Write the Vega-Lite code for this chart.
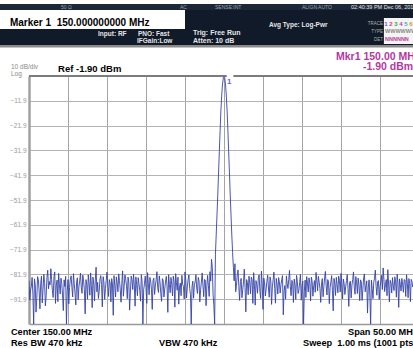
{
"$schema": "https://vega.github.io/schema/vega-lite/v6.json",
"autosize": "none",
"padding": {"left": 29, "top": 76, "right": 0, "bottom": 24},
"width": 384,
"height": 248,
"background": "white",
"config": {"view": {"stroke": null}, "font": "Liberation Sans", "axis": {"labelOverlap": false}},
"resolve": {"axis": {"x": "independent", "y": "independent"}},
"layer": [
{"data": {"values": [
{"f":125.0,"p":-84.5},{"f":125.1,"p":-92.3},{"f":125.2,"p":-88.2},{"f":125.3,"p":-86.8},{"f":125.4,"p":-83.1},{"f":125.5,"p":-89.9},{"f":125.6,"p":-101.9},{"f":125.7,"p":-83.7},{"f":125.8,"p":-86.0},{"f":125.9,"p":-97.1},
{"f":126.0,"p":-91.5},{"f":126.1,"p":-82.8},{"f":126.2,"p":-84.0},{"f":126.3,"p":-88.6},{"f":126.4,"p":-95.8},{"f":126.5,"p":-85.5},{"f":126.6,"p":-82.6},{"f":126.7,"p":-93.4},{"f":126.8,"p":-87.9},{"f":126.9,"p":-81.9},
{"f":127.0,"p":-85.2},{"f":127.1,"p":-94.6},{"f":127.2,"p":-90.4},{"f":127.3,"p":-83.2},{"f":127.4,"p":-80.2},{"f":127.5,"p":-87.7},{"f":127.6,"p":-84.8},{"f":127.7,"p":-86.1},{"f":127.8,"p":-79.6},{"f":127.9,"p":-84.0},
{"f":128.0,"p":-88.5},{"f":128.1,"p":-91.2},{"f":128.2,"p":-83.0},{"f":128.3,"p":-80.9},{"f":128.4,"p":-93.6},{"f":128.5,"p":-86.3},{"f":128.6,"p":-84.2},{"f":128.7,"p":-92.9},{"f":128.8,"p":-81.5},{"f":128.9,"p":-86.0},
{"f":129.0,"p":-89.8},{"f":129.1,"p":-83.4},{"f":129.2,"p":-85.5},{"f":129.3,"p":-90.2},{"f":129.4,"p":-96.5},{"f":129.5,"p":-84.1},{"f":129.6,"p":-86.8},{"f":129.7,"p":-82.7},{"f":129.8,"p":-101.9},{"f":129.9,"p":-88.9},
{"f":130.0,"p":-84.0},{"f":130.1,"p":-93.8},{"f":130.2,"p":-87.2},{"f":130.3,"p":-83.9},{"f":130.4,"p":-82.5},{"f":130.5,"p":-87.1},{"f":130.6,"p":-91.0},{"f":130.7,"p":-81.6},{"f":130.8,"p":-85.6},{"f":130.9,"p":-89.4},
{"f":131.0,"p":-94.2},{"f":131.1,"p":-85.0},{"f":131.2,"p":-83.3},{"f":131.3,"p":-92.1},{"f":131.4,"p":-86.9},{"f":131.5,"p":-84.5},{"f":131.6,"p":-81.4},{"f":131.7,"p":-87.0},{"f":131.8,"p":-89.5},{"f":131.9,"p":-82.2},
{"f":132.0,"p":-84.7},{"f":132.1,"p":-88.1},{"f":132.2,"p":-97.8},{"f":132.3,"p":-84.0},{"f":132.4,"p":-85.9},{"f":132.5,"p":-91.9},{"f":132.6,"p":-82.1},{"f":132.7,"p":-85.4},{"f":132.8,"p":-90.3},{"f":132.9,"p":-81.3},
{"f":133.0,"p":-86.4},{"f":133.1,"p":-95.3},{"f":133.2,"p":-83.0},{"f":133.3,"p":-85.8},{"f":133.4,"p":-92.6},{"f":133.5,"p":-84.2},{"f":133.6,"p":-79.0},{"f":133.7,"p":-88.9},{"f":133.8,"p":-85.1},{"f":133.9,"p":-91.6},
{"f":134.0,"p":-88.7},{"f":134.1,"p":-83.7},{"f":134.2,"p":-82.4},{"f":134.3,"p":-86.0},{"f":134.4,"p":-95.0},{"f":134.5,"p":-82.8},{"f":134.6,"p":-84.9},{"f":134.7,"p":-92.0},{"f":134.8,"p":-87.6},{"f":134.9,"p":-84.3},
{"f":135.0,"p":-81.0},{"f":135.1,"p":-86.1},{"f":135.2,"p":-90.8},{"f":135.3,"p":-84.0},{"f":135.4,"p":-85.3},{"f":135.5,"p":-93.0},{"f":135.6,"p":-83.6},{"f":135.7,"p":-85.8},{"f":135.8,"p":-98.4},{"f":135.9,"p":-82.4},
{"f":136.0,"p":-86.2},{"f":136.1,"p":-91.0},{"f":136.2,"p":-82.9},{"f":136.3,"p":-85.2},{"f":136.4,"p":-88.9},{"f":136.5,"p":-81.7},{"f":136.6,"p":-84.4},{"f":136.7,"p":-88.0},{"f":136.8,"p":-93.1},{"f":136.9,"p":-85.5},
{"f":137.0,"p":-80.5},{"f":137.1,"p":-90.7},{"f":137.2,"p":-86.7},{"f":137.3,"p":-82.1},{"f":137.4,"p":-83.8},{"f":137.5,"p":-86.4},{"f":137.6,"p":-91.7},{"f":137.7,"p":-83.0},{"f":137.8,"p":-85.0},{"f":137.9,"p":-96.3},
{"f":138.0,"p":-89.0},{"f":138.1,"p":-82.6},{"f":138.2,"p":-84.1},{"f":138.3,"p":-88.0},{"f":138.4,"p":-81.8},{"f":138.5,"p":-86.2},{"f":138.6,"p":-94.7},{"f":138.7,"p":-82.9},{"f":138.8,"p":-86.0},{"f":138.9,"p":-90.5},
{"f":139.0,"p":-83.2},{"f":139.1,"p":-85.7},{"f":139.2,"p":-88.4},{"f":139.3,"p":-92.7},{"f":139.4,"p":-82.0},{"f":139.5,"p":-84.8},{"f":139.6,"p":-101.9},{"f":139.7,"p":-88.1},{"f":139.8,"p":-85.7},{"f":139.9,"p":-82.6},
{"f":140.0,"p":-87.3},{"f":140.1,"p":-93.6},{"f":140.2,"p":-81.2},{"f":140.3,"p":-85.6},{"f":140.4,"p":-90.1},{"f":140.5,"p":-83.1},{"f":140.6,"p":-84.6},{"f":140.7,"p":-87.9},{"f":140.8,"p":-96.0},{"f":140.9,"p":-84.4},
{"f":141.0,"p":-83.4},{"f":141.1,"p":-90.0},{"f":141.2,"p":-86.5},{"f":141.3,"p":-84.1},{"f":141.4,"p":-80.8},{"f":141.5,"p":-87.2},{"f":141.6,"p":-89.2},{"f":141.7,"p":-82.5},{"f":141.8,"p":-85.1},{"f":141.9,"p":-89.7},
{"f":142.0,"p":-92.8},{"f":142.1,"p":-83.6},{"f":142.2,"p":-84.3},{"f":142.3,"p":-91.0},{"f":142.4,"p":-87.8},{"f":142.5,"p":-85.0},{"f":142.6,"p":-82.7},{"f":142.7,"p":-86.5},{"f":142.8,"p":-97.2},{"f":142.9,"p":-82.0},
{"f":143.0,"p":-85.9},{"f":143.1,"p":-89.3},{"f":143.2,"p":-83.1},{"f":143.3,"p":-86.0},{"f":143.4,"p":-90.6},{"f":143.5,"p":-82.6},{"f":143.6,"p":-84.8},{"f":143.7,"p":-95.1},{"f":143.8,"p":-81.6},{"f":143.9,"p":-85.2},
{"f":144.0,"p":-88.3},{"f":144.1,"p":-83.0},{"f":144.2,"p":-93.9},{"f":144.3,"p":-87.0},{"f":144.4,"p":-85.4},{"f":144.5,"p":-90.5},{"f":144.6,"p":-82.3},{"f":144.7,"p":-85.9},{"f":144.8,"p":-86.8},{"f":144.9,"p":-91.8},
{"f":145.0,"p":-80.9},{"f":145.1,"p":-84.2},{"f":145.2,"p":-91.4},{"f":145.3,"p":-86.9},{"f":145.4,"p":-84.0},{"f":145.5,"p":-82.1},{"f":145.6,"p":-87.5},{"f":145.7,"p":-90.0},{"f":145.8,"p":-101.9},{"f":145.9,"p":-86.8},
{"f":146.0,"p":-84.6},{"f":146.1,"p":-91.5},{"f":146.2,"p":-86.1},{"f":146.3,"p":-84.9},{"f":146.4,"p":-82.0},{"f":146.5,"p":-87.4},{"f":146.6,"p":-89.6},{"f":146.7,"p":-83.1},{"f":146.8,"p":-84.5},{"f":146.9,"p":-93.0},
{"f":147.0,"p":-88.0},{"f":147.1,"p":-85.0},{"f":147.2,"p":-81.3},{"f":147.3,"p":-86.3},{"f":147.4,"p":-90.9},{"f":147.5,"p":-83.9},{"f":147.6,"p":-84.2},{"f":147.7,"p":-94.5},{"f":147.8,"p":-86.6},{"f":147.9,"p":-82.3},
{"f":148.0,"p":-86.5},{"f":148.1,"p":-90.8},{"f":148.2,"p":-80.8},{"f":148.3,"p":-84.6},{"f":148.4,"p":-75.8},{"f":148.5,"p":-79.2},{"f":148.6,"p":-90.0},{"f":148.7,"p":-94.5},{"f":148.8,"p":-101.9},
{"f":148.9,"p":-74.0},{"f":149.0,"p":-66.0},{"f":149.1,"p":-58.0},{"f":149.2,"p":-50.0},{"f":149.3,"p":-41.0},
{"f":149.4,"p":-32.5},{"f":149.5,"p":-24.0},{"f":149.6,"p":-16.0},{"f":149.7,"p":-10.0},{"f":149.8,"p":-5.5},
{"f":149.9,"p":-2.9},{"f":150.0,"p":-1.9},{"f":150.1,"p":-2.9},{"f":150.2,"p":-5.5},{"f":150.3,"p":-10.0},
{"f":150.4,"p":-16.0},{"f":150.5,"p":-24.0},{"f":150.6,"p":-32.5},{"f":150.7,"p":-41.0},{"f":150.8,"p":-50.0},
{"f":150.9,"p":-58.0},{"f":151.0,"p":-66.0},{"f":151.1,"p":-73.0},{"f":151.2,"p":-79.0},{"f":151.3,"p":-84.5},
{"f":151.4,"p":-77.6},{"f":151.5,"p":-88.9},{"f":151.6,"p":-86.3},{"f":151.7,"p":-82.0},{"f":151.8,"p":-80.1},{"f":151.9,"p":-86.7},
{"f":152.0,"p":-92.4},{"f":152.1,"p":-84.8},{"f":152.2,"p":-83.5},{"f":152.3,"p":-91.3},{"f":152.4,"p":-88.1},{"f":152.5,"p":-85.0},{"f":152.6,"p":-79.8},{"f":152.7,"p":-87.2},{"f":152.8,"p":-97.0},{"f":152.9,"p":-84.0},
{"f":153.0,"p":-85.2},{"f":153.1,"p":-90.1},{"f":153.2,"p":-82.6},{"f":153.3,"p":-85.3},{"f":153.4,"p":-89.7},{"f":153.5,"p":-83.0},{"f":153.6,"p":-84.1},{"f":153.7,"p":-93.6},{"f":153.8,"p":-81.2},{"f":153.9,"p":-86.2},
{"f":154.0,"p":-94.3},{"f":154.1,"p":-84.4},{"f":154.2,"p":-86.0},{"f":154.3,"p":-89.5},{"f":154.4,"p":-83.4},{"f":154.5,"p":-82.1},{"f":154.6,"p":-88.6},{"f":154.7,"p":-91.6},{"f":154.8,"p":-80.6},{"f":154.9,"p":-85.7},
{"f":155.0,"p":-96.0},{"f":155.1,"p":-83.4},{"f":155.2,"p":-85.3},{"f":155.3,"p":-90.6},{"f":155.4,"p":-87.9},{"f":155.5,"p":-84.7},{"f":155.6,"p":-82.2},{"f":155.7,"p":-87.4},{"f":155.8,"p":-91.1},{"f":155.9,"p":-82.9},
{"f":156.0,"p":-84.6},{"f":156.1,"p":-94.0},{"f":156.2,"p":-86.9},{"f":156.3,"p":-84.1},{"f":156.4,"p":-81.0},{"f":156.5,"p":-87.6},{"f":156.6,"p":-93.5},{"f":156.7,"p":-83.5},{"f":156.8,"p":-85.8},{"f":156.9,"p":-89.8},
{"f":157.0,"p":-83.2},{"f":157.1,"p":-84.9},{"f":157.2,"p":-89.4},{"f":157.3,"p":-86.1},{"f":157.4,"p":-84.0},{"f":157.5,"p":-82.4},{"f":157.6,"p":-98.2},{"f":157.7,"p":-88.5},{"f":157.8,"p":-86.4},{"f":157.9,"p":-91.9},
{"f":158.0,"p":-82.5},{"f":158.1,"p":-85.6},{"f":158.2,"p":-87.6},{"f":158.3,"p":-83.9},{"f":158.4,"p":-80.3},{"f":158.5,"p":-86.7},{"f":158.6,"p":-90.5},{"f":158.7,"p":-84.3},{"f":158.8,"p":-85.1},{"f":158.9,"p":-93.2},
{"f":159.0,"p":-83.8},{"f":159.1,"p":-86.0},{"f":159.2,"p":-92.0},{"f":159.3,"p":-82.3},{"f":159.4,"p":-84.7},{"f":159.5,"p":-89.6},{"f":159.6,"p":-88.2},{"f":159.7,"p":-85.1},{"f":159.8,"p":-81.9},{"f":159.9,"p":-92.3},
{"f":160.0,"p":-86.3},{"f":160.1,"p":-84.6},{"f":160.2,"p":-101.9},{"f":160.3,"p":-88.7},{"f":160.4,"p":-84.2},{"f":160.5,"p":-91.2},{"f":160.6,"p":-82.8},{"f":160.7,"p":-85.4},{"f":160.8,"p":-89.0},{"f":160.9,"p":-83.3},
{"f":161.0,"p":-85.6},{"f":161.1,"p":-92.6},{"f":161.2,"p":-83.0},{"f":161.3,"p":-84.8},{"f":161.4,"p":-90.7},{"f":161.5,"p":-86.4},{"f":161.6,"p":-84.4},{"f":161.7,"p":-89.1},{"f":161.8,"p":-81.1},{"f":161.9,"p":-84.5},
{"f":162.0,"p":-88.5},{"f":162.1,"p":-82.7},{"f":162.2,"p":-85.0},{"f":162.3,"p":-87.5},{"f":162.4,"p":-93.2},{"f":162.5,"p":-85.8},{"f":162.6,"p":-83.6},{"f":162.7,"p":-90.9},{"f":162.8,"p":-86.8},{"f":162.9,"p":-83.2},
{"f":163.0,"p":-80.7},{"f":163.1,"p":-86.6},{"f":163.2,"p":-90.2},{"f":163.3,"p":-84.0},{"f":163.4,"p":-84.9},{"f":163.5,"p":-93.7},{"f":163.6,"p":-87.3},{"f":163.7,"p":-85.0},{"f":163.8,"p":-82.4},{"f":163.9,"p":-88.3},
{"f":164.0,"p":-96.6},{"f":164.1,"p":-83.5},{"f":164.2,"p":-85.5},{"f":164.3,"p":-90.4},{"f":164.4,"p":-83.1},{"f":164.5,"p":-86.0},{"f":164.6,"p":-89.3},{"f":164.7,"p":-82.6},{"f":164.8,"p":-84.3},{"f":164.9,"p":-89.0},
{"f":165.0,"p":-81.5},{"f":165.1,"p":-85.1},{"f":165.2,"p":-91.8},{"f":165.3,"p":-83.8},{"f":165.4,"p":-85.7},{"f":165.5,"p":-90.0},{"f":165.6,"p":-87.0},{"f":165.7,"p":-84.4},{"f":165.8,"p":-82.0},{"f":165.9,"p":-87.7},
{"f":166.0,"p":-94.8},{"f":166.1,"p":-85.3},{"f":166.2,"p":-84.6},{"f":166.3,"p":-91.4},{"f":166.4,"p":-86.2},{"f":166.5,"p":-84.0},{"f":166.6,"p":-80.9},{"f":166.7,"p":-86.9},{"f":166.8,"p":-89.9},{"f":166.9,"p":-82.8},
{"f":167.0,"p":-85.2},{"f":167.1,"p":-89.6},{"f":167.2,"p":-83.4},{"f":167.3,"p":-86.3},{"f":167.4,"p":-92.5},{"f":167.5,"p":-84.1},{"f":167.6,"p":-84.8},{"f":167.7,"p":-92.4},{"f":167.8,"p":-88.0},{"f":167.9,"p":-83.3},
{"f":168.0,"p":-81.7},{"f":168.1,"p":-88.9},{"f":168.2,"p":-86.5},{"f":168.3,"p":-84.5},{"f":168.4,"p":-97.5},{"f":168.5,"p":-87.0},{"f":168.6,"p":-84.1},{"f":168.7,"p":-90.6},{"f":168.8,"p":-101.9},{"f":168.9,"p":-84.2},
{"f":169.0,"p":-87.6},{"f":169.1,"p":-91.7},{"f":169.2,"p":-85.0},{"f":169.3,"p":-83.4},{"f":169.4,"p":-80.2},{"f":169.5,"p":-86.8},{"f":169.6,"p":-90.3},{"f":169.7,"p":-84.8},{"f":169.8,"p":-84.4},{"f":169.9,"p":-92.0},
{"f":170.0,"p":-86.9},{"f":170.1,"p":-84.9},{"f":170.2,"p":-82.3},{"f":170.3,"p":-88.0},{"f":170.4,"p":-79.3},{"f":170.5,"p":-83.8},{"f":170.6,"p":-88.8},{"f":170.7,"p":-86.1},{"f":170.8,"p":-84.0},{"f":170.9,"p":-90.5},
{"f":171.0,"p":-80.0},{"f":171.1,"p":-85.8},{"f":171.2,"p":-93.0},{"f":171.3,"p":-84.3},{"f":171.4,"p":-85.4},{"f":171.5,"p":-89.4},{"f":171.6,"p":-83.2},{"f":171.7,"p":-86.6},{"f":171.8,"p":-88.4},{"f":171.9,"p":-82.9},
{"f":172.0,"p":-84.7},{"f":172.1,"p":-91.1},{"f":172.2,"p":-81.8},{"f":172.3,"p":-85.5},{"f":172.4,"p":-95.2},{"f":172.5,"p":-83.7},{"f":172.6,"p":-85.9},{"f":172.7,"p":-88.6},{"f":172.8,"p":-83.5},{"f":172.9,"p":-86.1},
{"f":173.0,"p":-89.1},{"f":173.1,"p":-84.0},{"f":173.2,"p":-84.2},{"f":173.3,"p":-90.8},{"f":173.4,"p":-82.0},{"f":173.5,"p":-85.2},{"f":173.6,"p":-91.3},{"f":173.7,"p":-83.6},{"f":173.8,"p":-85.6},{"f":173.9,"p":-92.9},
{"f":174.0,"p":-83.9},{"f":174.1,"p":-84.8},{"f":174.2,"p":-87.0},{"f":174.3,"p":-86.0},{"f":174.4,"p":-84.5}
]},
 "mark": {"type": "line", "color": "#3443a6", "strokeWidth": 0.9, "clip": true},
 "encoding": {
  "x": {"field": "f", "type": "quantitative", "scale": {"domain": [125, 174.23], "nice": false, "zero": false},
   "axis": {"title": null, "values": [130,135,140,145,150,155,160,165,170], "labels": false, "ticks": false, "domain": true, "domainColor": "#999999", "domainWidth": 1.5, "grid": true, "gridColor": "#a4a4a4", "gridWidth": 1}},
  "y": {"field": "p", "type": "quantitative", "scale": {"domain": [-101.9, -1.9], "nice": false, "zero": false},
   "axis": {"title": null, "values": [-11.9,-21.9,-31.9,-41.9,-51.9,-61.9,-71.9,-81.9,-91.9], "format": ".1f", "labelOverlap": false, "labelFontSize": 6.5, "labelColor": "#9a9a9a", "labelPadding": 3, "ticks": false, "domain": true, "domainColor": "#a0a0a0", "domainWidth": 2.5, "grid": true, "gridColor": "#b4b4b4", "gridWidth": 1}}
 }},
{"data": {"values": [{}]}, "mark": {"type": "rect", "color": "#101a28"},
 "encoding": {"x": {"datum": 121.28, "type": "quantitative", "axis": null}, "x2": {"datum": 175.2}, "y": {"datum": 27.13, "type": "quantitative", "axis": null}, "y2": {"datum": 10.6}}},
{"data": {"values": [{}]}, "mark": {"type": "rect", "color": "#1c2838"},
 "encoding": {"x": {"datum": 121.28, "type": "quantitative", "axis": null}, "x2": {"datum": 175.2}, "y": {"datum": 27.13, "type": "quantitative", "axis": null}, "y2": {"datum": 24.71}}},
{"data": {"values": [{}]}, "mark": {"type": "rect", "color": "#8a8a8a"},
 "encoding": {"x": {"datum": 121.28, "type": "quantitative", "axis": null}, "x2": {"datum": 175.2}, "y": {"datum": 10.6, "type": "quantitative", "axis": null}, "y2": {"datum": 9.6}}},
{"data": {"values": [{}]}, "mark": {"type": "rect", "color": "#ffffff"},
 "encoding": {"x": {"datum": 121.28, "type": "quantitative", "axis": null}, "x2": {"datum": 145.0}, "y": {"datum": 24.71, "type": "quantitative", "axis": null}, "y2": {"datum": 17.05}}},
{"data": {"values": [{}]}, "mark": {"type": "rect", "color": "#f4f4f4"},
 "encoding": {"x": {"datum": 170.5, "type": "quantitative", "axis": null}, "x2": {"datum": 175.2}, "y": {"datum": 21.5, "type": "quantitative", "axis": null}, "y2": {"datum": 11.0}}},
{"data": {"values": [{}]}, "mark": {"type": "rule", "color": "#7c7c7c", "strokeWidth": 2},
 "encoding": {"x": {"datum": 125, "type": "quantitative", "axis": null}, "x2": {"datum": 150.35}, "y": {"datum": -1.9, "type": "quantitative", "axis": null}}},
{"data": {"values": [{}]}, "mark": {"type": "rule", "color": "#7c7c7c", "strokeWidth": 2},
 "encoding": {"x": {"datum": 151.2, "type": "quantitative", "axis": null}, "x2": {"datum": 174.23}, "y": {"datum": -1.9, "type": "quantitative", "axis": null}}},
{"data": {"values": [{}]}, "mark": {"type": "point", "shape": "triangle-down", "filled": true, "color": "#8060c8", "size": 18, "opacity": 1},
 "encoding": {"x": {"datum": 150.0, "type": "quantitative", "axis": null}, "y": {"datum": -2.6, "type": "quantitative", "axis": null}}},
{"data": {"values": [{}]}, "mark": {"type": "text", "text": "1", "align": "left", "baseline": "alphabetic", "fontSize": 8, "fontWeight": "bold", "color": "#7060c0"},
 "encoding": {"x": {"datum": 150.38, "type": "quantitative", "axis": null}, "y": {"datum": -5.1, "type": "quantitative", "axis": null}}},
{"data": {"values": [{}]}, "mark": {"type": "text", "text": "50 Ω", "align": "left", "baseline": "alphabetic", "fontSize": 5, "color": "#9aa4b0"},
 "encoding": {"x": {"datum": 129.1, "type": "quantitative", "axis": null}, "y": {"datum": 25.1, "type": "quantitative", "axis": null}}},
{"data": {"values": [{}]}, "mark": {"type": "text", "text": "AC", "align": "left", "baseline": "alphabetic", "fontSize": 5, "color": "#9aa4b0"},
 "encoding": {"x": {"datum": 144.36, "type": "quantitative", "axis": null}, "y": {"datum": 25.1, "type": "quantitative", "axis": null}}},
{"data": {"values": [{}]}, "mark": {"type": "text", "text": "SENSE:INT", "align": "left", "baseline": "alphabetic", "fontSize": 5, "color": "#9aa4b0"},
 "encoding": {"x": {"datum": 148.85, "type": "quantitative", "axis": null}, "y": {"datum": 25.1, "type": "quantitative", "axis": null}}},
{"data": {"values": [{}]}, "mark": {"type": "text", "text": "ALIGN AUTO", "align": "left", "baseline": "alphabetic", "fontSize": 5, "color": "#9aa4b0"},
 "encoding": {"x": {"datum": 160.0, "type": "quantitative", "axis": null}, "y": {"datum": 25.1, "type": "quantitative", "axis": null}}},
{"data": {"values": [{}]}, "mark": {"type": "text", "text": "02:40:39 PM Dec 06, 2012", "align": "left", "baseline": "alphabetic", "fontSize": 5.5, "color": "#e6e6e6"},
 "encoding": {"x": {"datum": 166.28, "type": "quantitative", "axis": null}, "y": {"datum": 25.1, "type": "quantitative", "axis": null}}},
{"data": {"values": [{}]}, "mark": {"type": "text", "text": "Marker 1\u00a0\u00a0150.000000000 MHz", "align": "left", "baseline": "alphabetic", "fontSize": 10, "fontWeight": "bold", "color": "#000000"},
 "encoding": {"x": {"datum": 122.56, "type": "quantitative", "axis": null}, "y": {"datum": 18.26, "type": "quantitative", "axis": null}}},
{"data": {"values": [{}]}, "mark": {"type": "text", "text": "Input: RF", "align": "left", "baseline": "alphabetic", "fontSize": 6.5, "fontWeight": "bold", "color": "#e6e6e6"},
 "encoding": {"x": {"datum": 133.85, "type": "quantitative", "axis": null}, "y": {"datum": 14.23, "type": "quantitative", "axis": null}}},
{"data": {"values": [{}]}, "mark": {"type": "text", "text": "PNO: Fast", "align": "left", "baseline": "alphabetic", "fontSize": 6.5, "fontWeight": "bold", "color": "#e6e6e6"},
 "encoding": {"x": {"datum": 138.97, "type": "quantitative", "axis": null}, "y": {"datum": 14.23, "type": "quantitative", "axis": null}}},
{"data": {"values": [{}]}, "mark": {"type": "text", "text": "IFGain:Low", "align": "left", "baseline": "alphabetic", "fontSize": 6.5, "fontWeight": "bold", "color": "#e6e6e6"},
 "encoding": {"x": {"datum": 138.85, "type": "quantitative", "axis": null}, "y": {"datum": 11.41, "type": "quantitative", "axis": null}}},
{"data": {"values": [{}]}, "mark": {"type": "text", "text": "Trig: Free Run", "align": "left", "baseline": "alphabetic", "fontSize": 7, "fontWeight": "bold", "color": "#e6e6e6"},
 "encoding": {"x": {"datum": 146.03, "type": "quantitative", "axis": null}, "y": {"datum": 14.63, "type": "quantitative", "axis": null}}},
{"data": {"values": [{}]}, "mark": {"type": "text", "text": "Atten: 10 dB", "align": "left", "baseline": "alphabetic", "fontSize": 7, "fontWeight": "bold", "color": "#e6e6e6"},
 "encoding": {"x": {"datum": 146.03, "type": "quantitative", "axis": null}, "y": {"datum": 11.41, "type": "quantitative", "axis": null}}},
{"data": {"values": [{}]}, "mark": {"type": "text", "text": "Avg Type: Log-Pwr", "align": "left", "baseline": "alphabetic", "fontSize": 6.5, "fontWeight": "bold", "color": "#e6e6e6"},
 "encoding": {"x": {"datum": 155.77, "type": "quantitative", "axis": null}, "y": {"datum": 17.86, "type": "quantitative", "axis": null}}},
{"data": {"values": [{}]}, "mark": {"type": "text", "text": "TRACE", "align": "right", "baseline": "alphabetic", "fontSize": 4.5, "color": "#b0b0b0"},
 "encoding": {"x": {"datum": 170.38, "type": "quantitative", "axis": null}, "y": {"datum": 18.66, "type": "quantitative", "axis": null}}},
{"data": {"values": [{}]}, "mark": {"type": "text", "text": "TYPE", "align": "right", "baseline": "alphabetic", "fontSize": 4.5, "color": "#b0b0b0"},
 "encoding": {"x": {"datum": 170.38, "type": "quantitative", "axis": null}, "y": {"datum": 15.44, "type": "quantitative", "axis": null}}},
{"data": {"values": [{}]}, "mark": {"type": "text", "text": "DET", "align": "right", "baseline": "alphabetic", "fontSize": 4.5, "color": "#b0b0b0"},
 "encoding": {"x": {"datum": 170.38, "type": "quantitative", "axis": null}, "y": {"datum": 12.21, "type": "quantitative", "axis": null}}},
{"data": {"values": [{}]}, "mark": {"type": "text", "text": "1", "align": "center", "baseline": "alphabetic", "fontSize": 6, "fontWeight": "bold", "color": "#5a5ad8"},
 "encoding": {"x": {"datum": 170.75, "type": "quantitative", "axis": null}, "y": {"datum": 18.46, "type": "quantitative", "axis": null}}},
{"data": {"values": [{}]}, "mark": {"type": "text", "text": "2", "align": "center", "baseline": "alphabetic", "fontSize": 6, "fontWeight": "bold", "color": "#d8408c"},
 "encoding": {"x": {"datum": 171.39, "type": "quantitative", "axis": null}, "y": {"datum": 18.46, "type": "quantitative", "axis": null}}},
{"data": {"values": [{}]}, "mark": {"type": "text", "text": "3", "align": "center", "baseline": "alphabetic", "fontSize": 6, "fontWeight": "bold", "color": "#3caa3c"},
 "encoding": {"x": {"datum": 172.03, "type": "quantitative", "axis": null}, "y": {"datum": 18.46, "type": "quantitative", "axis": null}}},
{"data": {"values": [{}]}, "mark": {"type": "text", "text": "4", "align": "center", "baseline": "alphabetic", "fontSize": 6, "fontWeight": "bold", "color": "#b040c0"},
 "encoding": {"x": {"datum": 172.67, "type": "quantitative", "axis": null}, "y": {"datum": 18.46, "type": "quantitative", "axis": null}}},
{"data": {"values": [{}]}, "mark": {"type": "text", "text": "5", "align": "center", "baseline": "alphabetic", "fontSize": 6, "fontWeight": "bold", "color": "#40b0b0"},
 "encoding": {"x": {"datum": 173.31, "type": "quantitative", "axis": null}, "y": {"datum": 18.46, "type": "quantitative", "axis": null}}},
{"data": {"values": [{}]}, "mark": {"type": "text", "text": "6", "align": "center", "baseline": "alphabetic", "fontSize": 6, "fontWeight": "bold", "color": "#d0a030"},
 "encoding": {"x": {"datum": 173.95, "type": "quantitative", "axis": null}, "y": {"datum": 18.46, "type": "quantitative", "axis": null}}},
{"data": {"values": [{}]}, "mark": {"type": "text", "text": "WWWWWW", "align": "left", "baseline": "alphabetic", "fontSize": 5.5, "fontWeight": "bold", "color": "#8a8a8a"},
 "encoding": {"x": {"datum": 170.64, "type": "quantitative", "axis": null}, "y": {"datum": 15.44, "type": "quantitative", "axis": null}}},
{"data": {"values": [{}]}, "mark": {"type": "text", "text": "NNNNNN", "align": "left", "baseline": "alphabetic", "fontSize": 5.5, "fontWeight": "bold", "color": "#c040a0"},
 "encoding": {"x": {"datum": 170.64, "type": "quantitative", "axis": null}, "y": {"datum": 12.21, "type": "quantitative", "axis": null}}},
{"data": {"values": [{}]}, "mark": {"type": "text", "text": "Mkr1 150.00 MHz", "align": "left", "baseline": "alphabetic", "fontSize": 10.5, "fontWeight": "bold", "color": "#b5389f"},
 "encoding": {"x": {"datum": 164.36, "type": "quantitative", "axis": null}, "y": {"datum": 4.75, "type": "quantitative", "axis": null}}},
{"data": {"values": [{}]}, "mark": {"type": "text", "text": "-1.90 dBm", "align": "left", "baseline": "alphabetic", "fontSize": 10.5, "fontWeight": "bold", "color": "#b5389f"},
 "encoding": {"x": {"datum": 167.82, "type": "quantitative", "axis": null}, "y": {"datum": 0.52, "type": "quantitative", "axis": null}}},
{"data": {"values": [{}]}, "mark": {"type": "text", "text": "10 dB/div", "align": "left", "baseline": "alphabetic", "fontSize": 6.5, "color": "#8a8a8a"},
 "encoding": {"x": {"datum": 122.69, "type": "quantitative", "axis": null}, "y": {"datum": 0.9, "type": "quantitative", "axis": null}}},
{"data": {"values": [{}]}, "mark": {"type": "text", "text": "Log", "align": "left", "baseline": "alphabetic", "fontSize": 6.5, "color": "#8a8a8a"},
 "encoding": {"x": {"datum": 122.69, "type": "quantitative", "axis": null}, "y": {"datum": -1.75, "type": "quantitative", "axis": null}}},
{"data": {"values": [{}]}, "mark": {"type": "text", "text": "Ref -1.90 dBm", "align": "left", "baseline": "alphabetic", "fontSize": 9.5, "fontWeight": "bold", "color": "#000000"},
 "encoding": {"x": {"datum": 128.72, "type": "quantitative", "axis": null}, "y": {"datum": -0.29, "type": "quantitative", "axis": null}}},
{"data": {"values": [{}]}, "mark": {"type": "text", "text": "Center 150.00 MHz", "align": "left", "baseline": "alphabetic", "fontSize": 9.2, "fontWeight": "bold", "color": "#000000"},
 "encoding": {"x": {"datum": 122.69, "type": "quantitative", "axis": null}, "y": {"datum": -106.34, "type": "quantitative", "axis": null}}},
{"data": {"values": [{}]}, "mark": {"type": "text", "text": "Res BW 470 kHz", "align": "left", "baseline": "alphabetic", "fontSize": 9.2, "fontWeight": "bold", "color": "#000000"},
 "encoding": {"x": {"datum": 122.69, "type": "quantitative", "axis": null}, "y": {"datum": -110.77, "type": "quantitative", "axis": null}}},
{"data": {"values": [{}]}, "mark": {"type": "text", "text": "VBW 470 kHz", "align": "left", "baseline": "alphabetic", "fontSize": 9.2, "fontWeight": "bold", "color": "#000000"},
 "encoding": {"x": {"datum": 141.67, "type": "quantitative", "axis": null}, "y": {"datum": -110.77, "type": "quantitative", "axis": null}}},
{"data": {"values": [{}]}, "mark": {"type": "text", "text": "Span 50.00 MHz", "align": "left", "baseline": "alphabetic", "fontSize": 9.2, "fontWeight": "bold", "color": "#000000"},
 "encoding": {"x": {"datum": 165.9, "type": "quantitative", "axis": null}, "y": {"datum": -106.34, "type": "quantitative", "axis": null}}},
{"data": {"values": [{}]}, "mark": {"type": "text", "text": "Sweep\u00a0\u00a01.00 ms (1001 pts)", "align": "left", "baseline": "alphabetic", "fontSize": 9.2, "fontWeight": "bold", "color": "#000000"},
 "encoding": {"x": {"datum": 160.13, "type": "quantitative", "axis": null}, "y": {"datum": -110.77, "type": "quantitative", "axis": null}}}
]
}
